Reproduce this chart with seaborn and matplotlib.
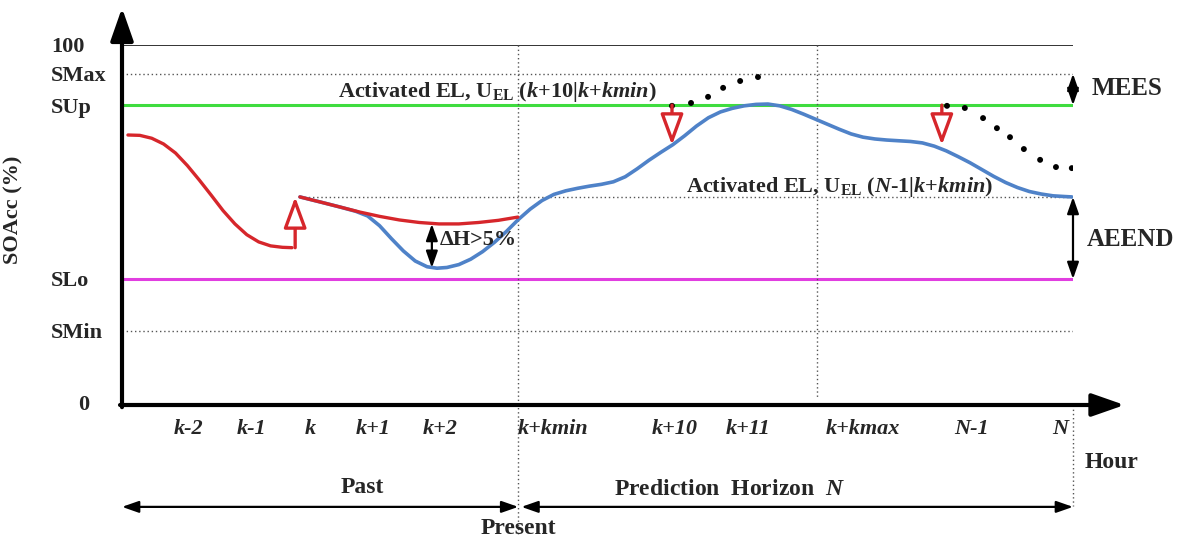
import pandas as pd
import seaborn as sns
import matplotlib.pyplot as plt

# Niveis do estado de carga (%)
level_names = ["SMin", "SLo", "SUp", "SMax", "100"]
level_vals = [20.6, 35.0, 83.3, 92.0, 100.0]

# Rotulos do eixo das horas
hour_labels = ["k-2", "k-1", "k", "k+1", "k+2", "k+kmin", "k+10", "k+11", "k+kmax", "N-1", "N"]
hour_pos = [1.67, 3.28, 4.74, 6.33, 8.03, 10.88, 13.96, 15.8, 18.7, 21.45, 23.67]

# Curva vermelha (passado)
red_past_x = [0.15, 0.45, 0.75, 1.05, 1.35, 1.65, 1.95, 2.25, 2.55, 2.85, 3.15, 3.45, 3.75, 4.05, 4.29]
red_past_y = [75.0, 74.9, 74.1, 72.5, 70.0, 66.5, 62.5, 58.3, 54.0, 50.3, 47.3, 45.3, 44.2, 43.8, 43.7]

# Curva vermelha depois da carga
red_ctrl_x = [4.49, 5.0, 5.5, 6.0, 6.5, 7.0, 7.5, 8.0, 8.5, 9.0, 9.5, 9.99]
red_ctrl_y = [57.8, 56.4, 55.0, 53.6, 52.4, 51.4, 50.7, 50.3, 50.3, 50.7, 51.3, 52.2]

# Curva azul (real + previsao)
blue_x = [4.49, 5.0, 5.5, 5.9, 6.2, 6.5, 6.8, 7.1, 7.4, 7.7, 7.95, 8.2, 8.5, 8.8, 9.1,
          9.4, 9.7, 10.0, 10.3, 10.6, 10.9, 11.2, 11.5, 11.8, 12.1, 12.4, 12.7, 13.0,
          13.3, 13.6, 13.9, 14.2, 14.5, 14.8, 15.1, 15.4, 15.7, 16.0, 16.3, 16.6, 16.9,
          17.2, 17.5, 17.8, 18.1, 18.4, 18.7, 19.0, 19.3, 19.6, 19.9, 20.2, 20.5, 20.8,
          21.1, 21.4, 21.7, 22.0, 22.3, 22.6, 22.9, 23.2, 23.5, 23.8, 23.97]
blue_y = [57.8, 56.4, 55.0, 53.8, 52.5, 49.8, 46.2, 42.8, 40.0, 38.4, 38.0, 38.2, 39.0, 40.5, 42.6,
          45.2, 48.2, 51.5, 54.4, 56.8, 58.5, 59.5, 60.2, 60.8, 61.3, 62.0, 63.4, 65.6,
          68.0, 70.2, 72.3, 74.8, 77.5, 79.8, 81.4, 82.4, 83.1, 83.5, 83.6, 83.1, 82.1,
          80.8, 79.4, 78.0, 76.6, 75.3, 74.4, 73.9, 73.6, 73.4, 73.2, 72.8, 71.9, 70.6,
          69.0, 67.3, 65.4, 63.5, 61.8, 60.4, 59.3, 58.6, 58.1, 57.9, 57.8]

# Trajetorias sem carga eletrica (pontos)
dots1_x = [13.88, 14.36, 14.79, 15.17, 15.60, 16.05]
dots1_y = [83.1, 83.9, 85.6, 88.1, 90.0, 91.1]
dots2_x = [20.82, 21.27, 21.73, 22.08, 22.41, 22.76, 23.17, 23.57, 23.97]
dots2_y = [83.1, 82.5, 79.7, 76.9, 74.4, 71.1, 68.1, 66.1, 65.8]

# Setas de carga (sobe) e de EL ativada (desce)
charge_x, charge_from, charge_to = 4.37, 43.7, 57.8
el_x = [13.88, 20.69]
el_from, el_to = 83.3, 72.2

present_x = 10.0
kmax_x = 17.55
horizon_x = 24.0
mid_level = 57.8

RED = "#d6262b"
BLUE = "#4f82c8"
GREEN = "#3fdc3f"
MAGENTA = "#e13ee0"

sns.set_theme(style="white")
plt.rcParams["font.family"] = ["Liberation Serif", "DejaVu Serif"]
plt.rcParams["font.weight"] = "bold"
plt.rcParams["mathtext.fontset"] = "custom"
plt.rcParams["mathtext.rm"] = "Liberation Serif:bold"
plt.rcParams["mathtext.it"] = "Liberation Serif:italic:bold"
plt.rcParams["mathtext.bf"] = "Liberation Serif:bold"

fig = plt.figure(figsize=(11.89, 5.44), dpi=100)
ax = fig.add_axes([122 / 1189, (544 - 405) / 544, 951 / 1189, 360 / 544])
ax.set_xlim(0, 24)
ax.set_ylim(0, 100)
for s in ax.spines.values():
    s.set_visible(False)

# linhas de referencia
dot_ls = (0, (1, 2))
ax.plot([0, horizon_x], [100, 100], color="#333333", lw=1.4)
ax.plot([0, horizon_x], [level_vals[3]] * 2, color="#555555", lw=1, ls=dot_ls)
ax.plot([0, horizon_x], [level_vals[0]] * 2, color="#555555", lw=1, ls=dot_ls)
ax.plot([4.49, horizon_x], [mid_level] * 2, color="#555555", lw=1, ls=dot_ls)
ax.plot([0, horizon_x], [level_vals[2]] * 2, color=GREEN, lw=2.2)
ax.plot([0, horizon_x], [level_vals[1]] * 2, color=MAGENTA, lw=2.2)
ax.plot([present_x, present_x], [100, -36], color="#555555", lw=1, ls=dot_ls, clip_on=False)
ax.plot([kmax_x, kmax_x], [100, 2], color="#555555", lw=1, ls=dot_ls)
ax.plot([horizon_x, horizon_x], [0, -28], color="#555555", lw=1, ls=dot_ls, clip_on=False)

# curvas
sns.lineplot(x=blue_x, y=blue_y, color=BLUE, lw=2.6, estimator=None, ax=ax)
sns.lineplot(x=red_past_x, y=red_past_y, color=RED, lw=2.4, estimator=None, ax=ax)
sns.lineplot(x=red_ctrl_x, y=red_ctrl_y, color=RED, lw=2.4, estimator=None, ax=ax)
dots = pd.DataFrame({"x": dots1_x + dots2_x, "y": dots1_y + dots2_y})
sns.scatterplot(data=dots, x="x", y="y", color="black", s=18, edgecolor="none", ax=ax, zorder=5)

# setas vermelhas vazadas
hollow = dict(arrowstyle="-|>,head_length=1.9,head_width=0.7", fc="white", ec=RED,
              lw=2.4, mutation_scale=10, shrinkA=0, shrinkB=0)
ax.annotate("", xy=(charge_x, charge_to), xytext=(charge_x, charge_from), arrowprops=hollow, zorder=6)
for xe in el_x:
    ax.annotate("", xy=(xe, el_to), xytext=(xe, el_from), arrowprops=hollow, zorder=6)

# eixos com setas
axis_arrow = dict(arrowstyle="-|>,head_length=2.0,head_width=0.7", color="black",
                  lw=3, mutation_scale=10, shrinkA=0, shrinkB=0)
ax.annotate("", xy=(25.3, 0), xytext=(-0.05, 0), arrowprops=axis_arrow, annotation_clip=False)
ax.annotate("", xy=(0, 110.3), xytext=(0, -0.6), arrowprops=axis_arrow, annotation_clip=False)

# setas duplas
dbl = dict(arrowstyle="<|-|>,head_length=1.0,head_width=0.35", color="black",
           lw=1.6, mutation_scale=10, shrinkA=0, shrinkB=0)
ax.annotate("", xy=(7.82, 50.3), xytext=(7.82, 38.1), arrowprops=dbl)
ax.annotate("", xy=(horizon_x, level_vals[3]), xytext=(horizon_x, level_vals[2]),
            arrowprops=dbl, annotation_clip=False)
ax.annotate("", xy=(horizon_x, mid_level), xytext=(horizon_x, level_vals[1]),
            arrowprops=dbl, annotation_clip=False)
ax.annotate("", xy=(0, -28.3), xytext=(present_x, -28.3), arrowprops=dbl, annotation_clip=False)
ax.annotate("", xy=(present_x + 0.08, -28.3), xytext=(horizon_x, -28.3), arrowprops=dbl,
            annotation_clip=False)

# ticks
ax.set_xticks(hour_pos)
ax.set_xticklabels(hour_labels, fontstyle="italic", fontweight="bold", fontsize=16)
ax.set_yticks(level_vals)
ax.set_yticklabels(level_names, fontweight="bold", fontsize=16)
ax.tick_params(axis="x", length=0, pad=10)
ax.tick_params(axis="y", length=0, pad=51)
for t in ax.get_yticklabels():
    t.set_ha("left")
ax.text(-0.96, 0, "0", ha="center", va="center", fontsize=16, fontweight="bold")

ax.set_ylabel("SOAcc (%)", fontsize=16, fontweight="bold")
ax.yaxis.set_label_coords(-99 / 951, 195 / 360)
ax.set_xlabel("Hour", fontsize=17, fontweight="bold")
ax.xaxis.set_label_coords(990 / 951, -47 / 360)

# textos
ax.text(5.45, 86.9, r"Activated EL, U$_{\mathrm{EL}}$ ($\mathit{k{+}10|k{+}kmin}$)",
        fontsize=16, ha="left", va="center")
ax.text(14.23, 60.6, r"Activated EL, U$_{\mathrm{EL}}$ ($\mathit{N}\text{-}\mathit{1|k{+}kmin}$)",
        fontsize=16, ha="left", va="center")
ax.text(8.02, 45.8, "ΔH>5%", fontsize=16, ha="left", va="center")
ax.text(24.48, 88.0, "MEES", fontsize=18, ha="left", va="center")
ax.text(24.35, 46.1, "AEEND", fontsize=18, ha="left", va="center")
ax.text(6.06, -23.0, "Past", fontsize=17, ha="center", va="center")
ax.text(15.34, -23.6, r"Prediction  Horizon  $\mathit{N}$", fontsize=17, ha="center", va="center")
ax.text(present_x, -34.2, "Present", fontsize=17, ha="center", va="center")

fig.savefig("out.png", dpi=100)
